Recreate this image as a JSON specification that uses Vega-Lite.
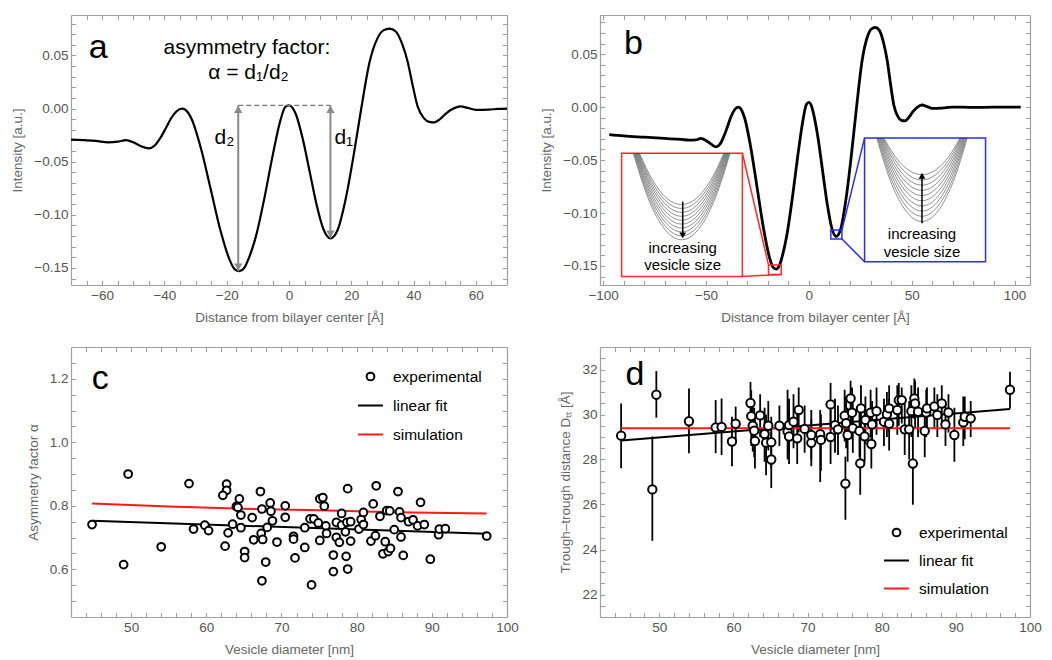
{
"$schema": "https://vega.github.io/schema/vega-lite/v6.json",
"background": "white",
"padding": {"left": 10, "top": 14, "right": 5, "bottom": 2},
"columns": 2,
"spacing": {"row": 22, "column": 20},
"resolve": {"scale": {"stroke": "independent", "shape": "independent"}, "legend": {"stroke": "independent", "shape": "independent"}},
"config": {
 "font": "Liberation Sans",
 "view": {"stroke": null},
 "axis": {"domain": true, "domainColor": "#a0a0a0", "domainWidth": 1.2, "grid": false, "labelColor": "#555", "labelFontSize": 13.5, "titleFontSize": 13.5, "titleFontWeight": "normal", "titleColor": "#666", "tickColor": "#a0a0a0", "tickWidth": 1.1, "tickSize": -4.5, "labelPadding": 7.5, "titlePadding": 9, "labelOverlap": false, "labelFlush": false}
},
"concat": [
{
 "width": 436, "height": 270,
 "layer": [
  {"mark": {"type": "rule", "color": "#c8c8c8", "strokeWidth": 1.2}, "encoding": {"y": {"datum": 0, "type": "quantitative", "axis": null}}},
  {"mark": {"type": "rule", "color": "#c8c8c8", "strokeWidth": 1.2}, "encoding": {"x": {"datum": 0, "type": "quantitative", "axis": null}}},
  {"data": {"values": [
   {"x":-70,"y":-0.0292},{"x":-66,"y":-0.0298},{"x":-62,"y":-0.0305},{"x":-58,"y":-0.0318},{"x":-55,"y":-0.0312},{"x":-52.3,"y":-0.0298},{"x":-50,"y":-0.0318},{"x":-47.5,"y":-0.0355},{"x":-45,"y":-0.0375},{"x":-43.2,"y":-0.035},{"x":-41.4,"y":-0.0281},{"x":-39.6,"y":-0.0188},{"x":-37.9,"y":-0.0094},{"x":-36.1,"y":-0.0025},{"x":-34.3,"y":0.0},{"x":-32.5,"y":-0.0035},{"x":-31.2,"y":-0.0103},{"x":-28.2,"y":-0.0383},{"x":-25.1,"y":-0.0765},{"x":-22.0,"y":-0.1148},{"x":-19.0,"y":-0.1428},{"x":-17.5,"y":-0.151},{"x":-15.9,"y":-0.153},{"x":-14.4,"y":-0.150},{"x":-12.8,"y":-0.140},{"x":-10.6,"y":-0.12},{"x":-7.95,"y":-0.085},{"x":-5.3,"y":-0.045},{"x":-2.65,"y":-0.010},{"x":-1.2,"y":0.0015},{"x":0,"y":0.003},{"x":1.2,"y":0.0005},{"x":2.2,"y":-0.0054},{"x":4.4,"y":-0.0283},{"x":6.65,"y":-0.0596},{"x":8.9,"y":-0.0909},{"x":11.1,"y":-0.1138},{"x":13.3,"y":-0.1222},{"x":15.5,"y":-0.115},{"x":18.2,"y":-0.085},{"x":20.7,"y":-0.045},{"x":23.2,"y":0.0},{"x":25.9,"y":0.044},{"x":28.4,"y":0.066},{"x":30.3,"y":0.0735},{"x":32.3,"y":0.0752},{"x":34.3,"y":0.0725},{"x":36.3,"y":0.061},{"x":38.1,"y":0.044},{"x":39.7,"y":0.022},{"x":41.3,"y":0.002},{"x":43.3,"y":-0.009},{"x":45,"y":-0.0125},{"x":46.7,"y":-0.013},{"x":48.5,"y":-0.010},{"x":50.5,"y":-0.0045},{"x":52.5,"y":-0.0005},{"x":55,"y":0.002},{"x":57.5,"y":0.0005},{"x":60,"y":-0.0012},{"x":64,"y":-0.001},{"x":67,"y":-0.0004},{"x":70,"y":0.0}
  ]},
  "mark": {"type": "line", "color": "black", "strokeWidth": 2.2, "interpolate": "monotone"},
  "encoding": {
   "x": {"field": "x", "type": "quantitative", "scale": {"domain": [-70, 70], "nice": false, "zero": false},
     "axis": {"orient": "bottom", "title": "Distance from bilayer center [Å]", "values": [-65,-60,-55,-50,-45,-40,-35,-30,-25,-20,-15,-10,-5,0,5,10,15,20,25,30,35,40,45,50,55,60,65], "labelExpr": "datum.value % 20 === 0 ? datum.label : ''", "encode": {"ticks": {"update": {"y2": {"signal": "datum.value % 20 === 0 ? -5 : -2.5"}}}}}},
   "y": {"field": "y", "type": "quantitative", "scale": {"domain": [-0.166, 0.088], "nice": false, "zero": false},
     "axis": {"orient": "left", "title": "Intensity [a.u.]", "format": ".2f", "values": [-0.16,-0.15,-0.14,-0.13,-0.12,-0.11,-0.1,-0.09,-0.08,-0.07,-0.06,-0.05,-0.04,-0.03,-0.02,-0.01,0,0.01,0.02,0.03,0.04,0.05,0.06,0.07,0.08], "labelExpr": "abs(round(datum.value*100)) % 5 === 0 ? datum.label : ''", "encode": {"ticks": {"update": {"x2": {"signal": "abs(round(datum.value*100)) % 5 === 0 ? 5 : 2.5"}}}}}}
  }},
  {"data": {"values": [{"x1": -16.3, "x2": 13.3, "y": 0.003}]}, "mark": {"type": "rule", "color": "#777", "strokeDash": [5, 3], "strokeWidth": 1.3},
   "encoding": {"x": {"field": "x1", "type": "quantitative", "axis": null}, "x2": {"field": "x2"}, "y": {"field": "y", "type": "quantitative", "axis": null}}},
  {"data": {"values": [{"x": -16.3, "top": 0.003, "bot": -0.153}, {"x": 13.3, "top": 0.003, "bot": -0.122}]}, "mark": {"type": "rule", "color": "#8a8a8a", "strokeWidth": 2},
   "encoding": {"x": {"field": "x", "type": "quantitative", "axis": null}, "y": {"field": "top", "type": "quantitative", "axis": null}, "y2": {"field": "bot"}}},
  {"data": {"values": [{"x": -16.3, "top": 0.003, "bot": -0.153}, {"x": 13.3, "top": 0.003, "bot": -0.122}]}, "mark": {"type": "point", "shape": "triangle-up", "filled": true, "color": "#8a8a8a", "size": 70, "opacity": 1, "yOffset": 4},
   "encoding": {"x": {"field": "x", "type": "quantitative", "axis": null}, "y": {"field": "top", "type": "quantitative", "axis": null}}},
  {"data": {"values": [{"x": -16.3, "top": 0.003, "bot": -0.153}, {"x": 13.3, "top": 0.003, "bot": -0.122}]}, "mark": {"type": "point", "shape": "triangle-down", "filled": true, "color": "#8a8a8a", "size": 70, "opacity": 1, "yOffset": -4},
   "encoding": {"x": {"field": "x", "type": "quantitative", "axis": null}, "y": {"field": "bot", "type": "quantitative", "axis": null}}},
  {"data": {"values": [{"x": -61.3, "y": 0.057, "t": "a"}]}, "mark": {"type": "text", "fontSize": 34, "color": "black"},
   "encoding": {"x": {"field": "x", "type": "quantitative", "axis": null}, "y": {"field": "y", "type": "quantitative", "axis": null}, "text": {"field": "t"}}},
  {"data": {"values": [{"x": -13.5, "y": 0.0569, "t": "asymmetry factor:"}, {"x": -13.0, "y": 0.0333, "t": "α = d₁/d₂"}, {"x": -20.7, "y": -0.028, "t": "d₂"}, {"x": 17.6, "y": -0.028, "t": "d₁"}]}, "mark": {"type": "text", "fontSize": 21, "color": "black"},
   "encoding": {"x": {"field": "x", "type": "quantitative", "axis": null}, "y": {"field": "y", "type": "quantitative", "axis": null}, "text": {"field": "t"}}},
  {"data": {"values": [{"x": 0, "y": 0}]}, "mark": {"type": "point", "opacity": 0},
   "encoding": {
    "x": {"field": "x", "type": "quantitative", "axis": {"orient": "top", "title": null, "labels": false, "values": [-65,-60,-55,-50,-45,-40,-35,-30,-25,-20,-15,-10,-5,0,5,10,15,20,25,30,35,40,45,50,55,60,65], "encode": {"ticks": {"update": {"y2": {"signal": "datum.value % 20 === 0 ? 5 : 2.5"}}}}}},
    "y": {"field": "y", "type": "quantitative", "axis": {"orient": "right", "title": null, "labels": false, "values": [-0.16,-0.15,-0.14,-0.13,-0.12,-0.11,-0.1,-0.09,-0.08,-0.07,-0.06,-0.05,-0.04,-0.03,-0.02,-0.01,0,0.01,0.02,0.03,0.04,0.05,0.06,0.07,0.08], "encode": {"ticks": {"update": {"x2": {"signal": "abs(round(datum.value*100)) % 5 === 0 ? -5 : -2.5"}}}}}}
   }}
 ],
 "resolve": {"axis": {"x": "independent", "y": "independent"}}
},
{
 "width": 430, "height": 270,
 "layer": [
  {"mark": {"type": "rule", "color": "#c8c8c8", "strokeWidth": 1.2}, "encoding": {"y": {"datum": 0, "type": "quantitative", "axis": null}}},
  {"mark": {"type": "rule", "color": "#c8c8c8", "strokeWidth": 1.2}, "encoding": {"x": {"datum": 0, "type": "quantitative", "axis": null}}},
  {"data": {"values": [
   {"x":-97,"y":-0.026},{"x":-90,"y":-0.0272},{"x":-80,"y":-0.0284},{"x":-70,"y":-0.0296},{"x":-62,"y":-0.0305},{"x":-58,"y":-0.0312},{"x":-55,"y":-0.031},{"x":-52.5,"y":-0.0296},{"x":-50,"y":-0.0315},{"x":-47.5,"y":-0.035},{"x":-45,"y":-0.0375},{"x":-43.2,"y":-0.035},{"x":-41.4,"y":-0.0281},{"x":-39.6,"y":-0.0188},{"x":-37.9,"y":-0.0094},{"x":-36.1,"y":-0.0025},{"x":-34.3,"y":0.0},{"x":-32.5,"y":-0.0035},{"x":-31.2,"y":-0.0103},{"x":-28.2,"y":-0.0383},{"x":-25.1,"y":-0.0765},{"x":-22.0,"y":-0.1148},{"x":-19.0,"y":-0.1428},{"x":-17.5,"y":-0.151},{"x":-15.9,"y":-0.153},{"x":-14.4,"y":-0.150},{"x":-12.8,"y":-0.140},{"x":-10.6,"y":-0.12},{"x":-7.95,"y":-0.085},{"x":-5.3,"y":-0.045},{"x":-2.65,"y":-0.010},{"x":-1.2,"y":0.0025},{"x":0,"y":0.0045},{"x":1.2,"y":0.0015},{"x":2.2,"y":-0.0054},{"x":4.4,"y":-0.0283},{"x":6.65,"y":-0.0596},{"x":8.9,"y":-0.0909},{"x":11.1,"y":-0.1138},{"x":13.3,"y":-0.1222},{"x":15.5,"y":-0.115},{"x":18.2,"y":-0.085},{"x":20.7,"y":-0.045},{"x":23.2,"y":0.0},{"x":25.9,"y":0.044},{"x":28.4,"y":0.066},{"x":30.3,"y":0.0735},{"x":32.3,"y":0.0752},{"x":34.3,"y":0.0725},{"x":36.3,"y":0.061},{"x":38.1,"y":0.044},{"x":39.7,"y":0.022},{"x":41.3,"y":0.002},{"x":43.3,"y":-0.009},{"x":45,"y":-0.0125},{"x":46.7,"y":-0.013},{"x":48.5,"y":-0.010},{"x":50.5,"y":-0.0045},{"x":52.5,"y":-0.0005},{"x":55,"y":0.002},{"x":57.5,"y":0.0005},{"x":60,"y":-0.0012},{"x":64,"y":-0.001},{"x":67,"y":-0.0004},{"x":70,"y":0.0},{"x":75,"y":0.0},{"x":80,"y":-0.0003},{"x":90,"y":0.0},{"x":103,"y":0.0}
  ]},
  "mark": {"type": "line", "color": "black", "strokeWidth": 2.8, "interpolate": "monotone"},
  "encoding": {
   "x": {"field": "x", "type": "quantitative", "scale": {"domain": [-101.5, 107.5], "nice": false, "zero": false},
     "axis": {"orient": "bottom", "title": "Distance from bilayer center [Å]", "values": [-100,-90,-80,-70,-60,-50,-40,-30,-20,-10,0,10,20,30,40,50,60,70,80,90,100], "labelExpr": "datum.value % 50 === 0 ? datum.label : ''", "encode": {"ticks": {"update": {"y2": {"signal": "datum.value % 50 === 0 ? -5 : -2.5"}}}}}},
   "y": {"field": "y", "type": "quantitative", "scale": {"domain": [-0.168, 0.087], "nice": false, "zero": false},
     "axis": {"orient": "left", "title": "Intensity [a.u.]", "format": ".2f", "values": [-0.16,-0.15,-0.14,-0.13,-0.12,-0.11,-0.1,-0.09,-0.08,-0.07,-0.06,-0.05,-0.04,-0.03,-0.02,-0.01,0,0.01,0.02,0.03,0.04,0.05,0.06,0.07,0.08], "labelExpr": "abs(round(datum.value*100)) % 5 === 0 ? datum.label : ''", "encode": {"ticks": {"update": {"x2": {"signal": "abs(round(datum.value*100)) % 5 === 0 ? 5 : 2.5"}}}}}}
  }},
  {"data": {"values": [{"b": "L", "x1": -91, "x2": -32.3, "y1": -0.0436, "y2": -0.160}, {"b": "R", "x1": 27.1, "x2": 85.9, "y1": -0.0291, "y2": -0.146}]},
   "mark": {"type": "rect", "fill": "white", "strokeWidth": 1.5},
   "encoding": {"x": {"field": "x1", "type": "quantitative", "axis": null}, "x2": {"field": "x2"}, "y": {"field": "y1", "type": "quantitative", "axis": null}, "y2": {"field": "y2"},
    "stroke": {"field": "b", "type": "nominal", "scale": {"domain": ["L", "R"], "range": ["#ff2a2a", "#2b2bff"]}, "legend": null}}},
  {"data": {"values": [{"b": "L", "x1": -19.6, "x2": -13.4, "y1": -0.149, "y2": -0.158}, {"b": "R", "x1": 10.7, "x2": 16.1, "y1": -0.116, "y2": -0.1246}]},
   "mark": {"type": "rect", "fillOpacity": 0, "strokeWidth": 1.5},
   "encoding": {"x": {"field": "x1", "type": "quantitative", "axis": null}, "x2": {"field": "x2"}, "y": {"field": "y1", "type": "quantitative", "axis": null}, "y2": {"field": "y2"},
    "stroke": {"field": "b", "type": "nominal", "legend": null}}},
  {"data": {"values": [{"b": "L", "x1": -32.3, "y1": -0.0436, "x2": -19.6, "y2": -0.149}, {"b": "L", "x1": -32.3, "y1": -0.160, "x2": -13.4, "y2": -0.158}, {"b": "R", "x1": 16.1, "y1": -0.116, "x2": 27.1, "y2": -0.0291}, {"b": "R", "x1": 16.1, "y1": -0.1246, "x2": 27.1, "y2": -0.146}]},
   "mark": {"type": "rule", "strokeWidth": 1.5},
   "encoding": {"x": {"field": "x1", "type": "quantitative", "axis": null}, "x2": {"field": "x2"}, "y": {"field": "y1", "type": "quantitative", "axis": null}, "y2": {"field": "y2"},
    "stroke": {"field": "b", "type": "nominal", "legend": null}}},
  {"data": {"values": [
   {"g":"L0","x":-82.3,"y":-0.0436},{"g":"L0","x":-76.15,"y":-0.0683},{"g":"L0","x":-70.0,"y":-0.0843},{"g":"L0","x":-61.8,"y":-0.092},{"g":"L0","x":-53.6,"y":-0.0843},{"g":"L0","x":-47.45,"y":-0.0683},{"g":"L0","x":-41.3,"y":-0.0436},
   {"g":"L1","x":-82.63,"y":-0.0436},{"g":"L1","x":-76.38,"y":-0.0702},{"g":"L1","x":-70.13,"y":-0.0874},{"g":"L1","x":-61.8,"y":-0.0957},{"g":"L1","x":-53.47,"y":-0.0874},{"g":"L1","x":-47.22,"y":-0.0702},{"g":"L1","x":-40.97,"y":-0.0436},
   {"g":"L2","x":-82.97,"y":-0.0436},{"g":"L2","x":-76.62,"y":-0.0721},{"g":"L2","x":-70.27,"y":-0.0905},{"g":"L2","x":-61.8,"y":-0.0994},{"g":"L2","x":-53.33,"y":-0.0905},{"g":"L2","x":-46.98,"y":-0.0721},{"g":"L2","x":-40.63,"y":-0.0436},
   {"g":"L3","x":-83.3,"y":-0.0436},{"g":"L3","x":-76.85,"y":-0.0739},{"g":"L3","x":-70.4,"y":-0.0936},{"g":"L3","x":-61.8,"y":-0.1031},{"g":"L3","x":-53.2,"y":-0.0936},{"g":"L3","x":-46.75,"y":-0.0739},{"g":"L3","x":-40.3,"y":-0.0436},
   {"g":"L4","x":-83.63,"y":-0.0436},{"g":"L4","x":-77.08,"y":-0.0758},{"g":"L4","x":-70.53,"y":-0.0967},{"g":"L4","x":-61.8,"y":-0.1068},{"g":"L4","x":-53.07,"y":-0.0967},{"g":"L4","x":-46.52,"y":-0.0758},{"g":"L4","x":-39.97,"y":-0.0436},
   {"g":"L5","x":-83.97,"y":-0.0436},{"g":"L5","x":-77.32,"y":-0.0777},{"g":"L5","x":-70.67,"y":-0.0998},{"g":"L5","x":-61.8,"y":-0.1105},{"g":"L5","x":-52.93,"y":-0.0998},{"g":"L5","x":-46.28,"y":-0.0777},{"g":"L5","x":-39.63,"y":-0.0436},
   {"g":"L6","x":-84.3,"y":-0.0436},{"g":"L6","x":-77.55,"y":-0.0796},{"g":"L6","x":-70.8,"y":-0.1029},{"g":"L6","x":-61.8,"y":-0.1142},{"g":"L6","x":-52.8,"y":-0.1029},{"g":"L6","x":-46.05,"y":-0.0796},{"g":"L6","x":-39.3,"y":-0.0436},
   {"g":"L7","x":-84.63,"y":-0.0436},{"g":"L7","x":-77.78,"y":-0.0815},{"g":"L7","x":-70.93,"y":-0.106},{"g":"L7","x":-61.8,"y":-0.1179},{"g":"L7","x":-52.67,"y":-0.106},{"g":"L7","x":-45.82,"y":-0.0815},{"g":"L7","x":-38.97,"y":-0.0436},
   {"g":"L8","x":-84.97,"y":-0.0436},{"g":"L8","x":-78.02,"y":-0.0834},{"g":"L8","x":-71.07,"y":-0.1091},{"g":"L8","x":-61.8,"y":-0.1216},{"g":"L8","x":-52.53,"y":-0.1091},{"g":"L8","x":-45.58,"y":-0.0834},{"g":"L8","x":-38.63,"y":-0.0436},
   {"g":"L9","x":-85.3,"y":-0.0436},{"g":"L9","x":-78.25,"y":-0.0853},{"g":"L9","x":-71.2,"y":-0.1122},{"g":"L9","x":-61.8,"y":-0.1253},{"g":"L9","x":-52.4,"y":-0.1122},{"g":"L9","x":-45.35,"y":-0.0853},{"g":"L9","x":-38.3,"y":-0.0436},
   {"g":"R0","x":36.5,"y":-0.0291},{"g":"R0","x":42.05,"y":-0.0468},{"g":"R0","x":47.6,"y":-0.0583},{"g":"R0","x":55,"y":-0.0639},{"g":"R0","x":62.4,"y":-0.0583},{"g":"R0","x":67.95,"y":-0.0468},{"g":"R0","x":73.5,"y":-0.0291},
   {"g":"R1","x":36.11,"y":-0.0291},{"g":"R1","x":41.78,"y":-0.0493},{"g":"R1","x":47.44,"y":-0.0624},{"g":"R1","x":55,"y":-0.0688},{"g":"R1","x":62.56,"y":-0.0624},{"g":"R1","x":68.22,"y":-0.0493},{"g":"R1","x":73.89,"y":-0.0291},
   {"g":"R2","x":35.72,"y":-0.0291},{"g":"R2","x":41.5,"y":-0.0518},{"g":"R2","x":47.29,"y":-0.0666},{"g":"R2","x":55,"y":-0.0737},{"g":"R2","x":62.71,"y":-0.0666},{"g":"R2","x":68.5,"y":-0.0518},{"g":"R2","x":74.28,"y":-0.0291},
   {"g":"R3","x":35.33,"y":-0.0291},{"g":"R3","x":41.23,"y":-0.0543},{"g":"R3","x":47.13,"y":-0.0707},{"g":"R3","x":55,"y":-0.0786},{"g":"R3","x":62.87,"y":-0.0707},{"g":"R3","x":68.77,"y":-0.0543},{"g":"R3","x":74.67,"y":-0.0291},
   {"g":"R4","x":34.94,"y":-0.0291},{"g":"R4","x":40.96,"y":-0.0568},{"g":"R4","x":46.98,"y":-0.0748},{"g":"R4","x":55,"y":-0.0835},{"g":"R4","x":63.02,"y":-0.0748},{"g":"R4","x":69.04,"y":-0.0568},{"g":"R4","x":75.06,"y":-0.0291},
   {"g":"R5","x":34.56,"y":-0.0291},{"g":"R5","x":40.69,"y":-0.0593},{"g":"R5","x":46.82,"y":-0.0789},{"g":"R5","x":55,"y":-0.0884},{"g":"R5","x":63.18,"y":-0.0789},{"g":"R5","x":69.31,"y":-0.0593},{"g":"R5","x":75.44,"y":-0.0291},
   {"g":"R6","x":34.17,"y":-0.0291},{"g":"R6","x":40.42,"y":-0.0618},{"g":"R6","x":46.67,"y":-0.083},{"g":"R6","x":55,"y":-0.0933},{"g":"R6","x":63.33,"y":-0.083},{"g":"R6","x":69.58,"y":-0.0618},{"g":"R6","x":75.83,"y":-0.0291},
   {"g":"R7","x":33.78,"y":-0.0291},{"g":"R7","x":40.15,"y":-0.0643},{"g":"R7","x":46.51,"y":-0.0871},{"g":"R7","x":55,"y":-0.0982},{"g":"R7","x":63.49,"y":-0.0871},{"g":"R7","x":69.85,"y":-0.0643},{"g":"R7","x":76.22,"y":-0.0291},
   {"g":"R8","x":33.39,"y":-0.0291},{"g":"R8","x":39.87,"y":-0.0668},{"g":"R8","x":46.36,"y":-0.0913},{"g":"R8","x":55,"y":-0.1031},{"g":"R8","x":63.64,"y":-0.0913},{"g":"R8","x":70.13,"y":-0.0668},{"g":"R8","x":76.61,"y":-0.0291},
   {"g":"R9","x":33.0,"y":-0.0291},{"g":"R9","x":39.6,"y":-0.0693},{"g":"R9","x":46.2,"y":-0.0954},{"g":"R9","x":55,"y":-0.108},{"g":"R9","x":63.8,"y":-0.0954},{"g":"R9","x":70.4,"y":-0.0693},{"g":"R9","x":77.0,"y":-0.0291}
  ]},
  "mark": {"type": "line", "color": "#333", "strokeWidth": 0.9, "opacity": 0.6, "interpolate": "monotone"},
  "encoding": {"x": {"field": "x", "type": "quantitative", "axis": null}, "y": {"field": "y", "type": "quantitative", "axis": null}, "detail": {"field": "g"}}},
  {"data": {"values": [{"x": -61.3, "y1": -0.0892, "y2": -0.122}, {"x": 55, "y1": -0.1097, "y2": -0.064}]}, "mark": {"type": "rule", "color": "black", "strokeWidth": 1.5},
   "encoding": {"x": {"field": "x", "type": "quantitative", "axis": null}, "y": {"field": "y1", "type": "quantitative", "axis": null}, "y2": {"field": "y2"}}},
  {"data": {"values": [{"x": -61.3, "y": -0.124}]}, "mark": {"type": "point", "shape": "triangle-down", "filled": true, "color": "black", "size": 45, "opacity": 1, "yOffset": -3},
   "encoding": {"x": {"field": "x", "type": "quantitative", "axis": null}, "y": {"field": "y", "type": "quantitative", "axis": null}}},
  {"data": {"values": [{"x": 55, "y": -0.062}]}, "mark": {"type": "point", "shape": "triangle-up", "filled": true, "color": "black", "size": 45, "opacity": 1, "yOffset": 3},
   "encoding": {"x": {"field": "x", "type": "quantitative", "axis": null}, "y": {"field": "y", "type": "quantitative", "axis": null}}},
  {"data": {"values": [{"x": -61.3, "y": -0.1335, "t": "increasing"}, {"x": -61.3, "y": -0.149, "t": "vesicle size"}, {"x": 55, "y": -0.1198, "t": "increasing"}, {"x": 55, "y": -0.137, "t": "vesicle size"}]},
   "mark": {"type": "text", "fontSize": 15, "color": "black"},
   "encoding": {"x": {"field": "x", "type": "quantitative", "axis": null}, "y": {"field": "y", "type": "quantitative", "axis": null}, "text": {"field": "t"}}},
  {"data": {"values": [{"x": -85.3, "y": 0.0595, "t": "b"}]}, "mark": {"type": "text", "fontSize": 34, "color": "black"},
   "encoding": {"x": {"field": "x", "type": "quantitative", "axis": null}, "y": {"field": "y", "type": "quantitative", "axis": null}, "text": {"field": "t"}}},
  {"data": {"values": [{"x": 0, "y": 0}]}, "mark": {"type": "point", "opacity": 0},
   "encoding": {
    "x": {"field": "x", "type": "quantitative", "axis": {"orient": "top", "title": null, "labels": false, "values": [-100,-90,-80,-70,-60,-50,-40,-30,-20,-10,0,10,20,30,40,50,60,70,80,90,100], "encode": {"ticks": {"update": {"y2": {"signal": "datum.value % 50 === 0 ? 5 : 2.5"}}}}}},
    "y": {"field": "y", "type": "quantitative", "axis": {"orient": "right", "title": null, "labels": false, "values": [-0.16,-0.15,-0.14,-0.13,-0.12,-0.11,-0.1,-0.09,-0.08,-0.07,-0.06,-0.05,-0.04,-0.03,-0.02,-0.01,0,0.01,0.02,0.03,0.04,0.05,0.06,0.07,0.08], "encode": {"ticks": {"update": {"x2": {"signal": "abs(round(datum.value*100)) % 5 === 0 ? -5 : -2.5"}}}}}}
   }}
 ],
 "resolve": {"axis": {"x": "independent", "y": "independent"}}
},
{
 "width": 436, "height": 270,
 "layer": [
  {"data": {"values": [{"s":"linear fit","x":44.8,"y":0.753},{"s":"linear fit","x":97.3,"y":0.712},{"s":"simulation","x":44.8,"y":0.807},{"s":"simulation","x":55,"y":0.798},{"s":"simulation","x":65,"y":0.791},{"s":"simulation","x":75,"y":0.786},{"s":"simulation","x":85,"y":0.780},{"s":"simulation","x":97.3,"y":0.776}]},
   "mark": {"type": "line", "strokeWidth": 2},
   "encoding": {
    "x": {"field": "x", "type": "quantitative", "scale": {"domain": [42, 100], "nice": false, "zero": false},
      "axis": {"orient": "bottom", "title": "Vesicle diameter [nm]", "values": [44,46,48,50,52,54,56,58,60,62,64,66,68,70,72,74,76,78,80,82,84,86,88,90,92,94,96,98,100], "labelExpr": "datum.value % 10 === 0 ? datum.label : ''", "encode": {"ticks": {"update": {"y2": {"signal": "datum.value % 10 === 0 ? -5 : -2.5"}}}}}},
    "y": {"field": "y", "type": "quantitative", "scale": {"domain": [0.45, 1.3], "nice": false, "zero": false},
      "axis": {"orient": "left", "title": "Asymmetry factor α", "format": ".1f", "values": [0.5,0.55,0.6,0.65,0.7,0.75,0.8,0.85,0.9,0.95,1.0,1.05,1.1,1.15,1.2,1.25], "labelExpr": "round(datum.value*100) % 20 === 0 ? datum.label : ''", "encode": {"ticks": {"update": {"x2": {"signal": "round(datum.value*100) % 20 === 0 ? 5 : 2.5"}}}}}},
    "stroke": {"field": "s", "type": "nominal", "scale": {"domain": ["experimental", "linear fit", "simulation"], "range": ["black", "black", "#ff1a1a"]},
      "legend": {"title": null, "orient": "none", "legendX": 286, "legendY": 16, "labelFontSize": 15.5, "labelColor": "black", "symbolSize": 620, "symbolStrokeWidth": 2, "rowPadding": 7, "labelOffset": 9, "encode": {"symbols": {"update": {"size": {"signal": "datum.value === 'experimental' ? 60 : 620"}}}}}}
   }},
  {"data": {"values": [
   {"x":44.8,"y":0.741},{"x":49.6,"y":0.900},{"x":49.0,"y":0.615},{"x":54.0,"y":0.671},{"x":57.7,"y":0.870},{"x":58.3,"y":0.727},{"x":59.8,"y":0.739},{"x":60.3,"y":0.722},{"x":62.7,"y":0.868},{"x":62.7,"y":0.849},{"x":62.2,"y":0.833},{"x":62.5,"y":0.673},{"x":62.9,"y":0.715},{"x":63.5,"y":0.742},{"x":64.0,"y":0.798},{"x":64.4,"y":0.822},{"x":64.2,"y":0.795},{"x":64.6,"y":0.771},{"x":64.6,"y":0.731},{"x":65.1,"y":0.656},{"x":65.1,"y":0.637},{"x":66.1,"y":0.763},{"x":66.3,"y":0.693},{"x":67.2,"y":0.845},{"x":67.4,"y":0.790},{"x":67.3,"y":0.713},{"x":67.5,"y":0.694},{"x":67.4,"y":0.564},{"x":67.9,"y":0.623},{"x":68.1,"y":0.732},{"x":68.5,"y":0.809},{"x":68.6,"y":0.783},{"x":68.8,"y":0.753},{"x":69.4,"y":0.686},{"x":70.5,"y":0.800},{"x":70.5,"y":0.764},{"x":71.6,"y":0.704},{"x":71.6,"y":0.695},{"x":71.8,"y":0.636},{"x":73.1,"y":0.731},{"x":73.1,"y":0.669},{"x":73.8,"y":0.759},{"x":74.3,"y":0.759},{"x":74.0,"y":0.551},{"x":74.9,"y":0.746},{"x":75.1,"y":0.822},{"x":75.5,"y":0.826},{"x":75.7,"y":0.799},{"x":75.1,"y":0.691},{"x":75.9,"y":0.737},{"x":76.0,"y":0.713},{"x":76.9,"y":0.645},{"x":76.9,"y":0.593},{"x":77.3,"y":0.748},{"x":77.3,"y":0.701},{"x":77.7,"y":0.685},{"x":78.0,"y":0.776},{"x":78.0,"y":0.739},{"x":78.5,"y":0.718},{"x":78.8,"y":0.854},{"x":78.7,"y":0.748},{"x":78.6,"y":0.641},{"x":78.8,"y":0.601},{"x":79.2,"y":0.750},{"x":79.2,"y":0.689},{"x":80.3,"y":0.727},{"x":80.6,"y":0.757},{"x":80.9,"y":0.779},{"x":80.9,"y":0.741},{"x":82.2,"y":0.806},{"x":81.9,"y":0.689},{"x":82.5,"y":0.706},{"x":82.6,"y":0.863},{"x":83.1,"y":0.767},{"x":83.5,"y":0.649},{"x":83.8,"y":0.687},{"x":84.0,"y":0.785},{"x":84.4,"y":0.784},{"x":84.2,"y":0.656},{"x":84.5,"y":0.666},{"x":85.0,"y":0.725},{"x":85.5,"y":0.845},{"x":85.7,"y":0.781},{"x":85.9,"y":0.763},{"x":85.9,"y":0.702},{"x":86.2,"y":0.644},{"x":86.9,"y":0.750},{"x":87.5,"y":0.756},{"x":88.1,"y":0.737},{"x":88.5,"y":0.811},{"x":89.0,"y":0.741},{"x":89.8,"y":0.632},{"x":90.9,"y":0.709},{"x":91.0,"y":0.727},{"x":91.8,"y":0.728},{"x":97.3,"y":0.705}
  ]},
   "mark": {"type": "point", "filled": true, "fill": "white", "strokeWidth": 2, "size": 60, "opacity": 1},
   "encoding": {
    "x": {"field": "x", "type": "quantitative", "axis": null},
    "y": {"field": "y", "type": "quantitative", "axis": null},
    "stroke": {"datum": "experimental", "type": "nominal",
      "legend": {"title": null, "orient": "none", "legendX": 286, "legendY": 16, "labelFontSize": 15.5, "labelColor": "black", "symbolSize": 620, "symbolStrokeWidth": 2, "rowPadding": 7, "labelOffset": 9, "encode": {"symbols": {"update": {"size": {"signal": "datum.value === 'experimental' ? 60 : 620"}}}}}},
    "shape": {"datum": "experimental", "type": "nominal", "scale": {"domain": ["experimental", "linear fit", "simulation"], "range": ["circle", "stroke", "stroke"]},
      "legend": {"title": null, "orient": "none", "legendX": 286, "legendY": 16, "labelFontSize": 15.5, "labelColor": "black", "symbolSize": 620, "symbolStrokeWidth": 2, "rowPadding": 7, "labelOffset": 9, "encode": {"symbols": {"update": {"size": {"signal": "datum.value === 'experimental' ? 60 : 620"}}}}}}
   }},
  {"data": {"values": [{"x": 45.9, "y": 1.2, "t": "c"}]}, "mark": {"type": "text", "fontSize": 34, "color": "black"},
   "encoding": {"x": {"field": "x", "type": "quantitative", "axis": null}, "y": {"field": "y", "type": "quantitative", "axis": null}, "text": {"field": "t"}}},
  {"data": {"values": [{"x": 50, "y": 1.0}]}, "mark": {"type": "point", "opacity": 0},
   "encoding": {
    "x": {"field": "x", "type": "quantitative", "axis": {"orient": "top", "title": null, "labels": false, "values": [44,46,48,50,52,54,56,58,60,62,64,66,68,70,72,74,76,78,80,82,84,86,88,90,92,94,96,98], "encode": {"ticks": {"update": {"y2": {"signal": "datum.value % 10 === 0 ? 5 : 2.5"}}}}}},
    "y": {"field": "y", "type": "quantitative", "axis": {"orient": "right", "title": null, "labels": false, "values": [0.5,0.55,0.6,0.65,0.7,0.75,0.8,0.85,0.9,0.95,1.0,1.05,1.1,1.15,1.2,1.25], "encode": {"ticks": {"update": {"x2": {"signal": "round(datum.value*100) % 20 === 0 ? -5 : -2.5"}}}}}}
   }}
 ],
 "resolve": {"axis": {"x": "independent", "y": "independent"}}
},
{
 "width": 430, "height": 270,
 "layer": [
  {"data": {"values": [
   {"x":44.85,"y":29.06,"lo":27.61,"hi":30.49},{"x":49.06,"y":26.67,"lo":24.39,"hi":29.02},{"x":49.6,"y":30.88,"lo":29.86,"hi":31.93},{"x":54.0,"y":29.70,"lo":28.28,"hi":31.16},{"x":57.6,"y":29.42,"lo":28.28,"hi":30.64},{"x":58.4,"y":29.45,"lo":28.2,"hi":30.71},{"x":59.8,"y":28.80,"lo":27.7,"hi":29.9},{"x":60.3,"y":29.59,"lo":28.8,"hi":30.35},{"x":62.3,"y":30.51,"lo":29.56,"hi":31.45},{"x":62.4,"y":29.93,"lo":28.6,"hi":31.08},{"x":62.6,"y":29.50,"lo":28.35,"hi":30.64},{"x":62.8,"y":29.28,"lo":28.1,"hi":30.3},{"x":62.9,"y":28.82,"lo":27.6,"hi":29.83},{"x":63.6,"y":29.96,"lo":29.0,"hi":30.9},{"x":64.2,"y":29.13,"lo":27.9,"hi":30.3},{"x":64.4,"y":28.75,"lo":27.3,"hi":30.0},{"x":64.7,"y":29.50,"lo":28.4,"hi":30.6},{"x":65.1,"y":28.77,"lo":27.6,"hi":29.9},{"x":65.1,"y":28.0,"lo":26.73,"hi":29.24},{"x":66.2,"y":29.50,"lo":28.6,"hi":30.4},{"x":67.3,"y":29.24,"lo":28.0,"hi":31.1},{"x":67.5,"y":29.53,"lo":28.3,"hi":30.7},{"x":67.5,"y":29.02,"lo":27.8,"hi":30.2},{"x":68.1,"y":29.68,"lo":28.5,"hi":30.9},{"x":68.6,"y":28.94,"lo":27.8,"hi":30.1},{"x":68.8,"y":30.2,"lo":29.2,"hi":31.2},{"x":69.6,"y":29.36,"lo":28.3,"hi":30.4},{"x":70.5,"y":28.74,"lo":27.7,"hi":29.8},{"x":70.5,"y":29.09,"lo":28.0,"hi":30.2},{"x":71.7,"y":29.13,"lo":27.0,"hi":30.2},{"x":71.8,"y":28.87,"lo":27.5,"hi":30.0},{"x":73.1,"y":30.45,"lo":29.3,"hi":31.4},{"x":73.1,"y":29.0,"lo":27.8,"hi":30.2},{"x":73.7,"y":29.53,"lo":28.3,"hi":30.7},{"x":74.1,"y":29.34,"lo":28.2,"hi":30.4},{"x":75.1,"y":26.93,"lo":25.32,"hi":28.13},{"x":75.0,"y":29.95,"lo":28.8,"hi":31.1},{"x":75.2,"y":29.61,"lo":28.5,"hi":30.8},{"x":75.4,"y":29.09,"lo":27.9,"hi":30.3},{"x":75.8,"y":30.71,"lo":29.6,"hi":31.5},{"x":76.0,"y":30.08,"lo":28.9,"hi":31.2},{"x":76.1,"y":29.39,"lo":28.3,"hi":30.5},{"x":77.1,"y":27.83,"lo":26.43,"hi":28.94},{"x":77.2,"y":30.27,"lo":29.2,"hi":31.3},{"x":77.0,"y":29.27,"lo":28.1,"hi":30.4},{"x":77.7,"y":29.03,"lo":27.9,"hi":30.1},{"x":77.8,"y":29.76,"lo":28.7,"hi":30.8},{"x":78.5,"y":30.08,"lo":29.0,"hi":31.1},{"x":78.6,"y":28.69,"lo":27.6,"hi":29.8},{"x":78.7,"y":29.56,"lo":28.5,"hi":30.6},{"x":79.3,"y":30.15,"lo":29.1,"hi":31.2},{"x":80.3,"y":29.68,"lo":28.6,"hi":30.7},{"x":80.7,"y":30.01,"lo":29.0,"hi":31.0},{"x":81.0,"y":29.59,"lo":28.4,"hi":30.7},{"x":81.0,"y":30.27,"lo":29.2,"hi":31.3},{"x":82.1,"y":30.2,"lo":29.1,"hi":31.3},{"x":82.3,"y":30.64,"lo":29.5,"hi":31.4},{"x":82.7,"y":30.64,"lo":29.6,"hi":31.2},{"x":83.1,"y":29.34,"lo":28.2,"hi":30.5},{"x":83.7,"y":29.34,"lo":28.0,"hi":30.6},{"x":84.0,"y":30.15,"lo":29.0,"hi":31.3},{"x":84.2,"y":27.82,"lo":25.99,"hi":29.24},{"x":84.4,"y":30.71,"lo":29.8,"hi":31.6},{"x":84.5,"y":30.49,"lo":29.4,"hi":31.5},{"x":84.9,"y":30.12,"lo":29.0,"hi":31.2},{"x":85.8,"y":29.27,"lo":28.1,"hi":30.4},{"x":86.0,"y":30.09,"lo":29.0,"hi":31.1},{"x":86.1,"y":30.27,"lo":29.3,"hi":31.2},{"x":87.1,"y":30.36,"lo":29.4,"hi":31.2},{"x":87.5,"y":29.98,"lo":29.0,"hi":30.9},{"x":88.1,"y":30.49,"lo":29.6,"hi":31.3},{"x":88.6,"y":29.56,"lo":28.6,"hi":30.5},{"x":89.0,"y":30.09,"lo":29.2,"hi":30.9},{"x":89.8,"y":29.09,"lo":27.9,"hi":30.3},{"x":91.0,"y":29.65,"lo":28.6,"hi":30.8},{"x":91.2,"y":29.90,"lo":28.9,"hi":30.8},{"x":92.0,"y":29.83,"lo":29.0,"hi":30.6},{"x":97.3,"y":31.10,"lo":30.27,"hi":31.9}
  ]},
   "mark": {"type": "rule", "color": "black", "strokeWidth": 1.8},
   "encoding": {
    "x": {"field": "x", "type": "quantitative", "scale": {"domain": [42, 100], "nice": false, "zero": false},
      "axis": {"orient": "bottom", "title": "Vesicle diameter [nm]", "values": [44,46,48,50,52,54,56,58,60,62,64,66,68,70,72,74,76,78,80,82,84,86,88,90,92,94,96,98,100], "labelExpr": "datum.value % 10 === 0 ? datum.label : ''", "encode": {"ticks": {"update": {"y2": {"signal": "datum.value % 10 === 0 ? -5 : -2.5"}}}}}},
    "y": {"field": "lo", "type": "quantitative", "scale": {"domain": [21, 33], "nice": false, "zero": false},
      "axis": {"orient": "left", "title": "Trough–trough distance Dₜₜ [Å]", "format": ".0f", "values": [21.5,22,22.5,23,23.5,24,24.5,25,25.5,26,26.5,27,27.5,28,28.5,29,29.5,30,30.5,31,31.5,32,32.5], "labelExpr": "datum.value % 2 === 0 ? datum.label : ''", "encode": {"ticks": {"update": {"x2": {"signal": "datum.value % 2 === 0 ? 5 : 2.5"}}}}}},
    "y2": {"field": "hi"}
   }},
  {"data": {"values": [{"s":"linear fit","x":44.85,"y":28.84},{"s":"linear fit","x":97.3,"y":30.24},{"s":"simulation","x":44.85,"y":29.39},{"s":"simulation","x":97.3,"y":29.39}]},
   "mark": {"type": "line", "strokeWidth": 2},
   "encoding": {
    "x": {"field": "x", "type": "quantitative", "axis": null},
    "y": {"field": "y", "type": "quantitative", "axis": null},
    "stroke": {"field": "s", "type": "nominal", "scale": {"domain": ["experimental", "linear fit", "simulation"], "range": ["black", "black", "#ff1a1a"]},
      "legend": {"title": null, "orient": "none", "legendX": 283, "legendY": 172, "labelFontSize": 15.5, "labelColor": "black", "symbolSize": 620, "symbolStrokeWidth": 2, "rowPadding": 6, "labelOffset": 9, "encode": {"symbols": {"update": {"size": {"signal": "datum.value === 'experimental' ? 60 : 620"}}}}}}
   }},
  {"data": {"values": [
   {"x":44.85,"y":29.06},{"x":49.06,"y":26.67},{"x":49.6,"y":30.88},{"x":54.0,"y":29.70},{"x":57.6,"y":29.42},{"x":58.4,"y":29.45},{"x":59.8,"y":28.80},{"x":60.3,"y":29.59},{"x":62.3,"y":30.51},{"x":62.4,"y":29.93},{"x":62.6,"y":29.50},{"x":62.8,"y":29.28},{"x":62.9,"y":28.82},{"x":63.6,"y":29.96},{"x":64.2,"y":29.13},{"x":64.4,"y":28.75},{"x":64.7,"y":29.50},{"x":65.1,"y":28.77},{"x":65.1,"y":28.0},{"x":66.2,"y":29.50},{"x":67.3,"y":29.24},{"x":67.5,"y":29.53},{"x":67.5,"y":29.02},{"x":68.1,"y":29.68},{"x":68.6,"y":28.94},{"x":68.8,"y":30.2},{"x":69.6,"y":29.36},{"x":70.5,"y":28.74},{"x":70.5,"y":29.09},{"x":71.7,"y":29.13},{"x":71.8,"y":28.87},{"x":73.1,"y":30.45},{"x":73.1,"y":29.0},{"x":73.7,"y":29.53},{"x":74.1,"y":29.34},{"x":75.1,"y":26.93},{"x":75.0,"y":29.95},{"x":75.2,"y":29.61},{"x":75.4,"y":29.09},{"x":75.8,"y":30.71},{"x":76.0,"y":30.08},{"x":76.1,"y":29.39},{"x":77.1,"y":27.83},{"x":77.2,"y":30.27},{"x":77.0,"y":29.27},{"x":77.7,"y":29.03},{"x":77.8,"y":29.76},{"x":78.5,"y":30.08},{"x":78.6,"y":28.69},{"x":78.7,"y":29.56},{"x":79.3,"y":30.15},{"x":80.3,"y":29.68},{"x":80.7,"y":30.01},{"x":81.0,"y":29.59},{"x":81.0,"y":30.27},{"x":82.1,"y":30.2},{"x":82.3,"y":30.64},{"x":82.7,"y":30.64},{"x":83.1,"y":29.34},{"x":83.7,"y":29.34},{"x":84.0,"y":30.15},{"x":84.2,"y":27.82},{"x":84.4,"y":30.71},{"x":84.5,"y":30.49},{"x":84.9,"y":30.12},{"x":85.8,"y":29.27},{"x":86.0,"y":30.09},{"x":86.1,"y":30.27},{"x":87.1,"y":30.36},{"x":87.5,"y":29.98},{"x":88.1,"y":30.49},{"x":88.6,"y":29.56},{"x":89.0,"y":30.09},{"x":89.8,"y":29.09},{"x":91.0,"y":29.65},{"x":91.2,"y":29.90},{"x":92.0,"y":29.83},{"x":97.3,"y":31.10}
  ]},
   "mark": {"type": "point", "filled": true, "fill": "white", "strokeWidth": 2, "size": 70, "opacity": 1},
   "encoding": {
    "x": {"field": "x", "type": "quantitative", "axis": null},
    "y": {"field": "y", "type": "quantitative", "axis": null},
    "stroke": {"datum": "experimental", "type": "nominal",
      "legend": {"title": null, "orient": "none", "legendX": 283, "legendY": 172, "labelFontSize": 15.5, "labelColor": "black", "symbolSize": 620, "symbolStrokeWidth": 2, "rowPadding": 6, "labelOffset": 9, "encode": {"symbols": {"update": {"size": {"signal": "datum.value === 'experimental' ? 60 : 620"}}}}}},
    "shape": {"datum": "experimental", "type": "nominal", "scale": {"domain": ["experimental", "linear fit", "simulation"], "range": ["circle", "stroke", "stroke"]},
      "legend": {"title": null, "orient": "none", "legendX": 283, "legendY": 172, "labelFontSize": 15.5, "labelColor": "black", "symbolSize": 620, "symbolStrokeWidth": 2, "rowPadding": 6, "labelOffset": 9, "encode": {"symbols": {"update": {"size": {"signal": "datum.value === 'experimental' ? 60 : 620"}}}}}}
   }},
  {"data": {"values": [{"x": 46.7, "y": 31.75, "t": "d"}]}, "mark": {"type": "text", "fontSize": 34, "color": "black"},
   "encoding": {"x": {"field": "x", "type": "quantitative", "axis": null}, "y": {"field": "y", "type": "quantitative", "axis": null}, "text": {"field": "t"}}},
  {"data": {"values": [{"x": 50, "y": 25}]}, "mark": {"type": "point", "opacity": 0},
   "encoding": {
    "x": {"field": "x", "type": "quantitative", "axis": {"orient": "top", "title": null, "labels": false, "values": [44,46,48,50,52,54,56,58,60,62,64,66,68,70,72,74,76,78,80,82,84,86,88,90,92,94,96,98], "encode": {"ticks": {"update": {"y2": {"signal": "datum.value % 10 === 0 ? 5 : 2.5"}}}}}},
    "y": {"field": "y", "type": "quantitative", "axis": {"orient": "right", "title": null, "labels": false, "values": [21.5,22,22.5,23,23.5,24,24.5,25,25.5,26,26.5,27,27.5,28,28.5,29,29.5,30,30.5,31,31.5,32,32.5], "encode": {"ticks": {"update": {"x2": {"signal": "datum.value % 2 === 0 ? -5 : -2.5"}}}}}}
   }}
 ],
 "resolve": {"axis": {"x": "independent", "y": "independent"}}
}
]
}
